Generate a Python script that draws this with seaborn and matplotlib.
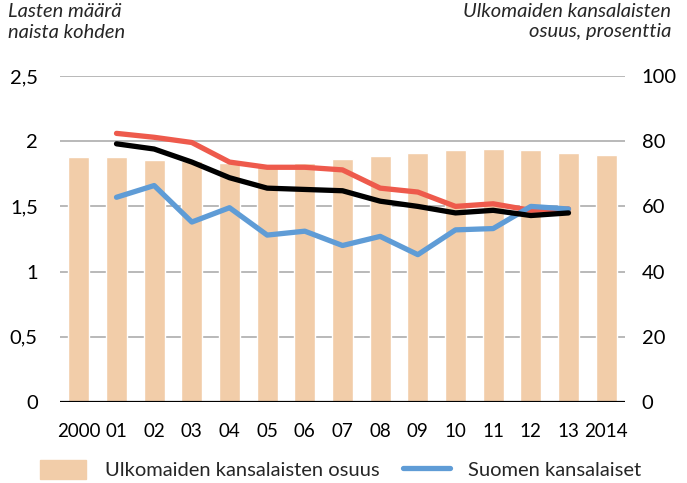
import numpy as np
import pandas as pd
import seaborn as sns
import matplotlib.pyplot as plt
from matplotlib.patches import Patch
from matplotlib.lines import Line2D
from matplotlib.ticker import FuncFormatter

# data
years = ["2000", "01", "02", "03", "04", "05", "06", "07",
         "08", "09", "10", "11", "12", "13", "2014"]
foreign_share = [75.3, 75.0, 74.2, 74.0, 73.2, 72.4, 73.2, 74.5,
                 75.5, 76.5, 77.3, 77.5, 77.2, 76.4, 75.9]
line_years = list(range(1, 14))
red_line = [2.06, 2.03, 1.99, 1.84, 1.80, 1.80, 1.78, 1.64, 1.61, 1.50, 1.52, 1.47, 1.48]
black_line = [1.98, 1.94, 1.84, 1.72, 1.64, 1.63, 1.62, 1.54, 1.50, 1.45, 1.47, 1.43, 1.45]
finnish = [1.57, 1.66, 1.38, 1.49, 1.28, 1.31, 1.20, 1.27, 1.13, 1.32, 1.33, 1.50, 1.48]

bar_color = "#F2CDA9"
red = "#EE5A4C"
blue = "#5F9CD6"
FS = 14.5

sns.set_theme(style="white")
plt.rcParams["font.family"] = ["Lato", "DejaVu Sans"]

fig = plt.figure(figsize=(6.87, 4.83), dpi=100)
ax = fig.add_axes([60 / 687, 1 - 402 / 483, 565 / 687, 326 / 483])

bars = pd.DataFrame({"year": years, "share": foreign_share})
sns.barplot(data=bars, x="year", y="share", color=bar_color, width=0.55,
            saturation=1, ax=ax, zorder=2)
ax.set_ylim(0, 100)
ax.set_yticks([0, 20, 40, 60, 80, 100])
ax.set_xlim(-0.5, 14.5)
for y in [20, 40, 60, 80, 100]:
    ax.axhline(y, color="#A6A6A6", lw=1.1, zorder=1)
ax.axhline(0, color="black", lw=1.6, zorder=3)

ax2 = ax.twinx()
lines = pd.DataFrame({"x": line_years, "red": red_line, "black": black_line, "blue": finnish})
sns.lineplot(data=lines, x="x", y="red", color=red, lw=3.8, ax=ax2)
sns.lineplot(data=lines, x="x", y="blue", color=blue, lw=3.8, ax=ax2)
sns.lineplot(data=lines, x="x", y="black", color="black", lw=3.8, ax=ax2)
ax2.set_ylim(0, 2.5)
ax2.set_yticks([0, 0.5, 1, 1.5, 2, 2.5])
ax2.yaxis.set_major_formatter(FuncFormatter(lambda v, p: f"{v:g}".replace(".", ",")))

# swap sides: shares on the right, children per woman on the left
ax.yaxis.tick_right()
ax2.yaxis.tick_left()

for a in (ax, ax2):
    a.set_xlabel("")
    a.set_ylabel("")
    for s in a.spines.values():
        s.set_visible(False)
    a.tick_params(length=0, labelsize=FS, colors="black")
ax.tick_params(axis="x", labelsize=13.5, pad=15)
ax.tick_params(axis="y", pad=12)
ax2.tick_params(axis="y", pad=16)

fig.text(8 / 687, 1 - 3 / 483, "Lasten määrä\nnaista kohden", ha="left", va="top",
         fontsize=FS, style="italic", linespacing=1.25)
fig.text(671 / 687, 1 - 3 / 483, "Ulkomaiden kansalaisten\nosuus, prosenttia", ha="right",
         va="top", fontsize=FS, style="italic", linespacing=1.25, multialignment="right")

handles = [Patch(color=bar_color), Line2D([], [], color=blue, lw=3.8)]
fig.legend(handles, ["Ulkomaiden kansalaisten osuus", "Suomen kansalaiset"],
           loc="lower left", bbox_to_anchor=(22 / 687, -0.03), ncol=2, frameon=False,
           fontsize=14.5, handlelength=2.3, handleheight=1.1, columnspacing=1.2,
           handletextpad=0.9)

fig.savefig("out.png", dpi=100)
